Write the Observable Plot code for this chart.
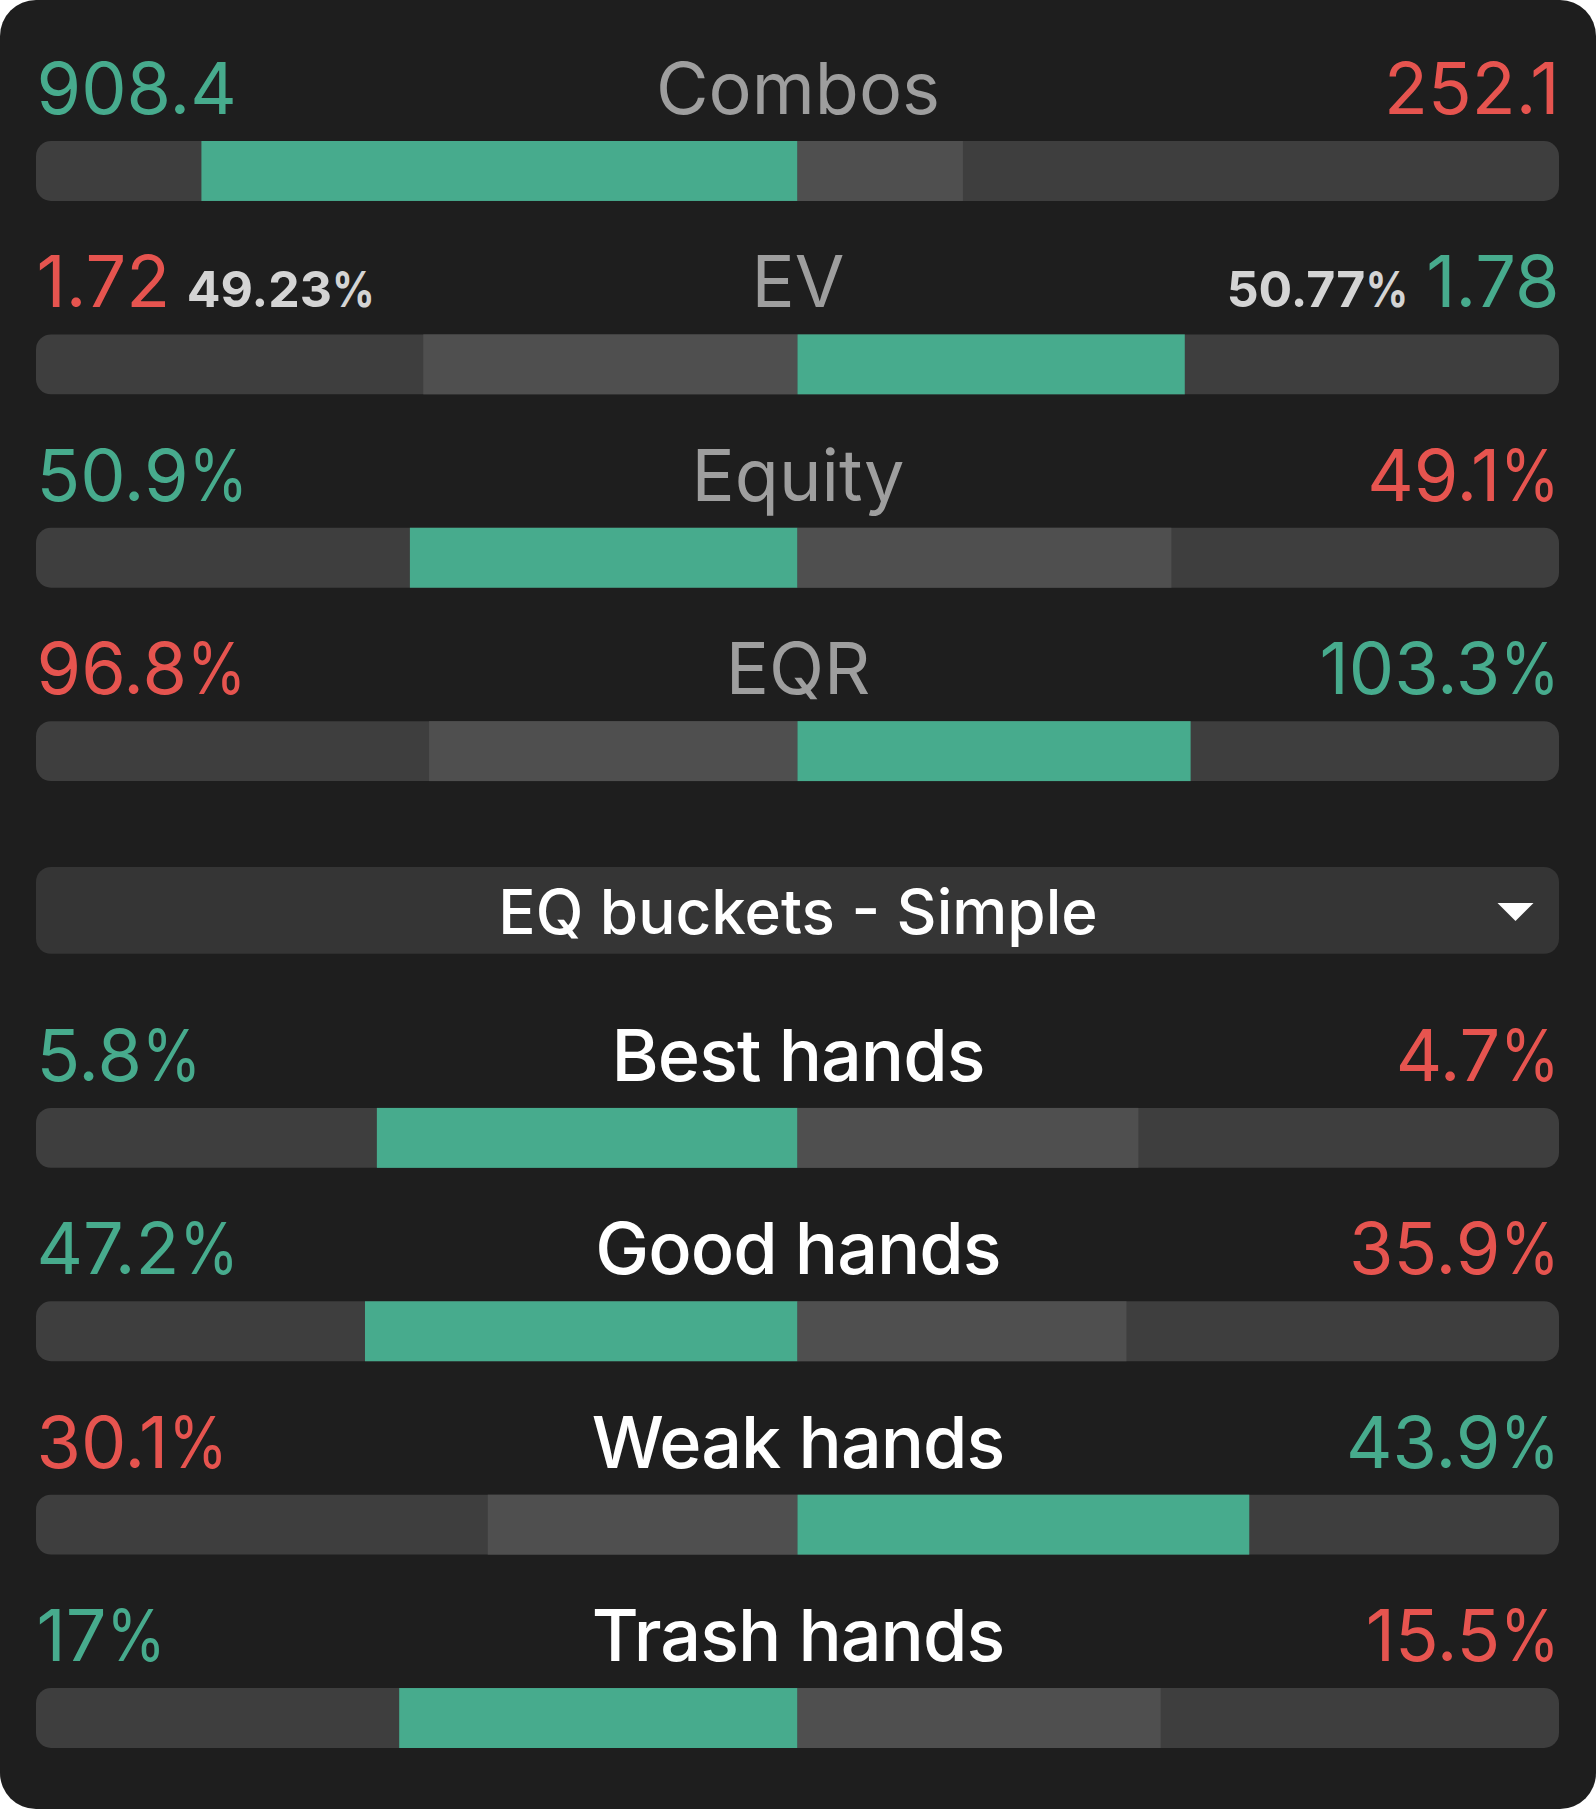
<!DOCTYPE html>
<html>
<head>
<meta charset="utf-8">
<script src="https://cdn.jsdelivr.net/npm/d3@7"></script>
<script src="https://cdn.jsdelivr.net/npm/@observablehq/plot@0.6"></script>
<style>
  html, body { margin: 0; padding: 0; background: #ffffff; }
  #chart svg { display: block; }
</style>
</head>
<body>
<div id="chart"></div>
<script>
// ---- data ----
const labels      = ["Combos", "EV", "Equity", "EQR", "Best hands", "Good hands", "Weak hands", "Trash hands"];
const sections    = ["stats", "stats", "stats", "stats", "bucket", "bucket", "bucket", "bucket"];
const leftValues  = [908.4, 1.72, 50.9, 96.8, 5.8, 47.2, 30.1, 17];
const rightValues = [252.1, 1.78, 49.1, 103.3, 4.7, 35.9, 43.9, 15.5];
const leftTexts   = ["908.4", "1.72", "50.9%", "96.8%", "5.8%", "47.2%", "30.1%", "17%"];
const rightTexts  = ["252.1", "1.78", "49.1%", "103.3%", "4.7%", "35.9%", "43.9%", "15.5%"];
const shareRows       = ["EV"];
const shareLeftTexts  = ["49.23%"];
const shareRightTexts = ["50.77%"];
const dropdownLabels  = ["EQ buckets - Simple"];

// ---- style ----
const GREEN = "#47ab8d", RED = "#e6544f", TRACK = "#3e3e3e", LOSER = "#4f4f4f";
const STAT_LABEL = "#9e9e9e", BUCKET_LABEL = "#ffffff", SHARE = "#d4d4d4", DROPDOWN = "#353535";
const FONT = "Inter, 'Noto Sans', sans-serif";
const DROPDOWN_SLOT = 4;

const rows = labels.map((label, i) => {
  const left = leftValues[i], right = rightValues[i], sum = left + right;
  return {
    label, section: sections[i],
    slot: i + (sections[i] === "bucket" ? 1 : 0),
    left, right, leftShare: left / sum, rightShare: right / sum,
    leftWins: left >= right,
    leftText: leftTexts[i], rightText: rightTexts[i]
  };
});

const ctx = document.createElement("canvas").getContext("2d");
function textWidth(str, font) { ctx.font = font; return ctx.measureText(str).width; }

const shares = shareRows.map((name, i) => {
  const r = rows.find(d => d.label === name);
  return {
    slot: r.slot, leftText: shareLeftTexts[i], rightText: shareRightTexts[i],
    leftOffset: textWidth(r.leftText, "400 72px Inter") + 16.5,
    rightOffset: textWidth(r.rightText, "400 72px Inter") + 18
  };
});

const caret = {
  draw(context, size) {
    const r = Math.sqrt(size / Math.PI);
    context.moveTo(-r, -r * 0.5);
    context.lineTo(r, -r * 0.5);
    context.lineTo(0, r * 0.5);
    context.closePath();
  }
};

const statRows = rows.filter(d => d.section !== "bucket");
const bucketRows = rows.filter(d => d.section === "bucket");

const chart = Plot.plot({
  width: 1596,
  height: 1809,
  margin: 0,
  style: { background: "#1e1e1e", borderRadius: "36px", fontFamily: FONT },
  x: { domain: [-1, 1], range: [36, 1559], axis: null },
  y: { type: "band", domain: d3.range(9), range: [141, 1748], paddingInner: 0.69, paddingOuter: 0, round: false, axis: null },
  color: { type: "identity" },
  marks: [
    // tracks
    Plot.barX(rows, { y: "slot", x1: -1, x2: 1, fill: TRACK, rx: 15 }),
    // left segments
    Plot.barX(rows, { y: "slot", x1: 0, x2: d => -d.leftShare, fill: d => d.leftWins ? GREEN : LOSER }),
    // right segments
    Plot.barX(rows, { y: "slot", x1: 0, x2: d => d.rightShare, fill: d => d.leftWins ? LOSER : GREEN }),
    // dropdown box
    Plot.barX(dropdownLabels, { y: () => DROPDOWN_SLOT, x1: -1, x2: 1, fill: DROPDOWN, rx: 15, insetTop: -47.6, insetBottom: 20.6 }),
    Plot.text(dropdownLabels, { y: () => DROPDOWN_SLOT, x: 0, text: d => d, fill: "#ffffff", fontSize: 62, fontWeight: 500, fontFamily: FONT, textAnchor: "middle", lineAnchor: "bottom", dy: -11.5 }),
    Plot.dot(dropdownLabels, { y: () => DROPDOWN_SLOT, x: 1, r: 18, symbol: caret, fill: "#ffffff", stroke: null, dx: -44, dy: -33 }),
    // center labels
    Plot.text(statRows, { y: "slot", x: 0, text: "label", textAnchor: "middle", lineAnchor: "bottom",
      fill: STAT_LABEL, fontWeight: 400, fontSize: 72, fontFamily: FONT, dy: -57.5 }),
    Plot.text(bucketRows, { y: "slot", x: 0, text: "label", textAnchor: "middle", lineAnchor: "bottom",
      fill: BUCKET_LABEL, fontWeight: 500, fontSize: 72, fontFamily: FONT, dy: -57.5 }),
    // left values
    Plot.text(rows, { y: "slot", x: -1, text: "leftText", textAnchor: "start", lineAnchor: "bottom",
      fill: d => d.leftWins ? GREEN : RED, fontWeight: 400, fontSize: 72, fontFamily: FONT, dy: -57.5 }),
    // right values
    Plot.text(rows, { y: "slot", x: 1, text: "rightText", textAnchor: "end", lineAnchor: "bottom",
      fill: d => d.leftWins ? RED : GREEN, fontWeight: 400, fontSize: 72, fontFamily: FONT, dy: -57.5 }),
    // EV shares
    ...shares.map(s => Plot.text([s], { y: "slot", x: -1, text: "leftText", textAnchor: "start", lineAnchor: "bottom",
      fill: SHARE, fontSize: 50, fontWeight: 700, fontFamily: FONT, dy: -57.5, dx: s.leftOffset })),
    ...shares.map(s => Plot.text([s], { y: "slot", x: 1, text: "rightText", textAnchor: "end", lineAnchor: "bottom",
      fill: SHARE, fontSize: 50, fontWeight: 700, fontFamily: FONT, dy: -57.5, dx: -s.rightOffset }))
  ]
});

// typographic touches: tighter tracking for the bucket titles, narrower percent sign
d3.select(chart).selectAll("text").each(function () {
  const g = this.closest("g");
  const fs = +(g && g.getAttribute("font-size")) || 72;
  const fw = +((g && g.getAttribute("font-weight")) || 400);
  const t = this.textContent;
  if (bucketRows.some(d => d.label === t) && fw === 500) {
    this.style.letterSpacing = "-1px";
    return;
  }
  if (!/%$/.test(t) || this.children.length) return;
  const w = textWidth("%", `${fw} ${fs}px Inter`);
  this.textContent = t.slice(0, -1);
  const ts = document.createElementNS("http://www.w3.org/2000/svg", "tspan");
  ts.textContent = "%";
  ts.setAttribute("textLength", Math.max(1, w - 11.5 * fs / 72));
  ts.setAttribute("lengthAdjust", "spacingAndGlyphs");
  this.appendChild(ts);
});

document.getElementById("chart").appendChild(chart);
</script>
</body>
</html>
